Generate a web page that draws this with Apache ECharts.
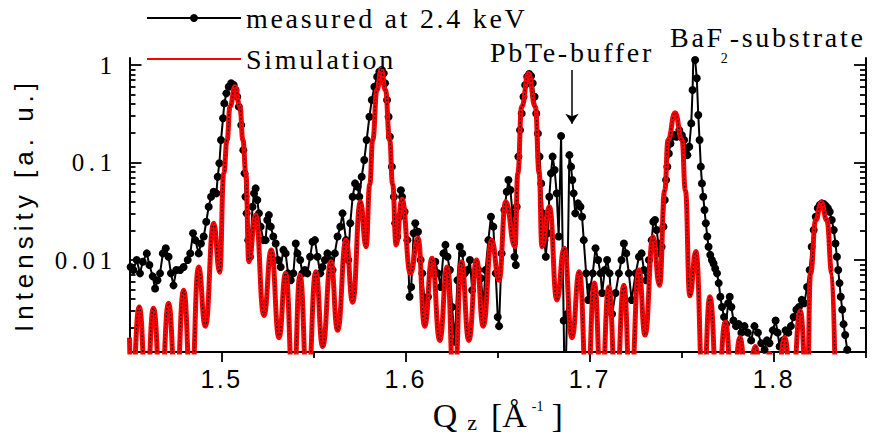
<!DOCTYPE html>
<html><head><meta charset="utf-8">
<script src="https://cdn.jsdelivr.net/npm/echarts@6/dist/echarts.min.js"></script>
<style>
html,body{margin:0;padding:0;background:#fff;}
#c{width:875px;height:434px;}
text[style*="LegSerif"]{letter-spacing:2.7px;}
text[style*="Tinos"]{letter-spacing:4.5px;}
text[style*="Arial"]{letter-spacing:2.5px;}
text[style*="Arimo"]{letter-spacing:5px;}
</style></head><body><div id="c"></div>
<script>
// ---- data ----
const qMeas = [1.4506,1.4521,1.4539,1.4557,1.4572,1.4594,1.4608,1.4626,1.4639,1.4652,1.4666,1.4681,1.4697,1.4712,1.4725,1.4739,1.4754,1.4775,1.4794,1.4816,1.4830,1.4845,1.4857,1.4876,1.4888,1.4903,1.4917,1.4930,1.4943,1.4957,1.4972,1.4979,1.4988,1.4997,1.5008,1.5015,1.5026,1.5039,1.5052,1.5066,1.5076,1.5085,1.5094,1.5107,1.5118,1.5125,1.5130,1.5136,1.5145,1.5154,1.5161,1.5168,1.5176,1.5185,1.5194,1.5203,1.5212,1.5227,1.5239,1.5248,1.5257,1.5267,1.5281,1.5294,1.5307,1.5321,1.5336,1.5348,1.5361,1.5376,1.5390,1.5403,1.5412,1.5427,1.5439,1.5452,1.5466,1.5481,1.5494,1.5507,1.5521,1.5536,1.5548,1.5561,1.5575,1.5590,1.5603,1.5615,1.5630,1.5645,1.5657,1.5676,1.5688,1.5699,1.5712,1.5725,1.5739,1.5748,1.5761,1.5775,1.5788,1.5803,1.5816,1.5830,1.5845,1.5857,1.5870,1.5881,1.5888,1.5899,1.5907,1.5914,1.5925,1.5936,1.5943,1.5954,1.5967,1.5974,1.5980,1.5994,1.6009,1.6021,1.6030,1.6043,1.6052,1.6067,1.6081,1.6090,1.6103,1.6121,1.6136,1.6148,1.6161,1.6176,1.6190,1.6205,1.6216,1.6227,1.6240,1.6252,1.6267,1.6281,1.6294,1.6307,1.6321,1.6336,1.6349,1.6361,1.6376,1.6394,1.6409,1.6421,1.6434,1.6449,1.6463,1.6476,1.6489,1.6500,1.6507,1.6521,1.6536,1.6549,1.6558,1.6569,1.6580,1.6591,1.6598,1.6603,1.6612,1.6621,1.6630,1.6640,1.6649,1.6660,1.6671,1.6681,1.6690,1.6700,1.6709,1.6718,1.6727,1.6736,1.6745,1.6754,1.6761,1.6771,1.6780,1.6789,1.6798,1.6809,1.6820,1.6831,1.6844,1.6858,1.6865,1.6876,1.6889,1.6898,1.6905,1.6912,1.6921,1.6936,1.6949,1.6958,1.6967,1.6980,1.6991,1.7003,1.7016,1.7031,1.7045,1.7058,1.7067,1.7081,1.7094,1.7107,1.7121,1.7140,1.7158,1.7172,1.7185,1.7198,1.7212,1.7227,1.7249,1.7267,1.7281,1.7294,1.7307,1.7321,1.7336,1.7345,1.7354,1.7363,1.7372,1.7381,1.7390,1.7400,1.7407,1.7414,1.7421,1.7429,1.7438,1.7449,1.7460,1.7471,1.7486,1.7500,1.7512,1.7521,1.7530,1.7540,1.7551,1.7558,1.7563,1.7572,1.7581,1.7589,1.7596,1.7603,1.7609,1.7616,1.7623,1.7630,1.7638,1.7645,1.7654,1.7663,1.7672,1.7681,1.7691,1.7700,1.7709,1.7718,1.7729,1.7740,1.7751,1.7760,1.7769,1.7780,1.7794,1.7809,1.7823,1.7840,1.7858,1.7876,1.7894,1.7913,1.7931,1.7949,1.7962,1.7976,1.7994,1.8009,1.8020,1.8031,1.8049,1.8063,1.8078,1.8092,1.8107,1.8122,1.8136,1.8151,1.8165,1.8180,1.8194,1.8205,1.8216,1.8227,1.8238,1.8249,1.8260,1.8271,1.8282,1.8293,1.8303,1.8314,1.8325,1.8334,1.8342,1.8349,1.8356,1.8363,1.8371,1.8378,1.8387,1.8398];
const iMeas = [0.0085,0.0079,0.0100,0.0073,0.0096,0.0117,0.0089,0.0068,0.0051,0.0062,0.0073,0.0117,0.0132,0.0108,0.0073,0.0055,0.0079,0.0079,0.0085,0.0100,0.0117,0.0188,0.0160,0.0117,0.0148,0.0174,0.0247,0.0352,0.0446,0.0502,0.0483,0.0716,0.0981,0.170,0.284,0.404,0.512,0.599,0.649,0.624,0.554,0.473,0.374,0.242,0.134,0.0774,0.0446,0.0301,0.0160,0.0108,0.0188,0.0352,0.0483,0.0543,0.0412,0.0301,0.0220,0.0160,0.0160,0.0257,0.0289,0.0220,0.0174,0.0148,0.0100,0.0085,0.0127,0.0117,0.0073,0.0062,0.0073,0.0148,0.0117,0.0100,0.0073,0.0079,0.0073,0.0108,0.0154,0.0160,0.0108,0.0073,0.0085,0.0100,0.0117,0.0100,0.0079,0.0117,0.0174,0.0220,0.0301,0.0160,0.0100,0.0238,0.0446,0.0611,0.0565,0.0446,0.0716,0.106,0.170,0.295,0.438,0.599,0.759,0.854,0.889,0.821,0.649,0.438,0.295,0.184,0.0907,0.0446,0.0238,0.0174,0.0278,0.0520,0.0446,0.0313,0.0160,0.0042,0.0053,0.0188,0.0238,0.0195,0.0100,0.0073,0.0036,0.0042,0.0073,0.0079,0.0096,0.0073,0.0053,0.0117,0.0143,0.0108,0.0079,0.0033,0.00145,0.0062,0.0137,0.0117,0.0073,0.0079,0.0100,0.0049,0.0073,0.0079,0.0065,0.0033,0.0079,0.0160,0.0278,0.0220,0.0073,0.0026,0.0021,0.0117,0.0326,0.0502,0.0661,0.0522,0.0301,0.0108,0.0089,0.0352,0.115,0.215,0.319,0.473,0.624,0.759,0.809,0.771,0.649,0.473,0.319,0.199,0.115,0.0611,0.0301,0.0160,0.0108,0.0188,0.0446,0.0774,0.115,0.0838,0.0483,0.0174,0.187,0.0024,0.0003,0.0028,0.119,0.0907,0.0661,0.0483,0.0301,0.0381,0.0352,0.0278,0.0160,0.0073,0.0039,0.0053,0.0073,0.0132,0.0100,0.0073,0.0046,0.0079,0.0100,0.0073,0.0028,0.0046,0.0073,0.0100,0.0148,0.0117,0.0073,0.0039,0.0073,0.0108,0.0117,0.0079,0.0062,0.0100,0.0160,0.0247,0.0257,0.0203,0.0148,0.0117,0.0137,0.0220,0.0412,0.0661,0.0907,0.124,0.157,0.184,0.191,0.184,0.215,0.191,0.170,0.134,0.119,0.145,0.252,0.554,1.32,1.125,0.730,0.307,0.170,0.0907,0.0611,0.0446,0.0326,0.0238,0.0174,0.0137,0.0113,0.0100,0.0092,0.0082,0.0073,0.0058,0.0042,0.0033,0.0026,0.0022,0.0036,0.0042,0.0033,0.0024,0.0021,0.0022,0.0018,0.0021,0.0018,0.0015,0.0021,0.0018,0.0014,0.0012,0.0015,0.0014,0.0019,0.0024,0.0018,0.0013,0.0015,0.0019,0.0018,0.0021,0.0026,0.0031,0.0033,0.0039,0.0036,0.0053,0.0079,0.0137,0.0203,0.0278,0.0339,0.0366,0.0381,0.0375,0.0358,0.0339,0.0313,0.0257,0.0203,0.0148,0.0108,0.0079,0.0058,0.0042,0.0031,0.0022,0.0017,0.0012];
const qSim = [1.4500,1.4512,1.4553,1.4592,1.4630,1.4671,1.4712,1.4753,1.4794,1.4835,1.4875,1.4912,1.4957,1.4990,1.5012,1.5030,1.5046,1.5073,1.5100,1.5116,1.5132,1.5148,1.5185,1.5230,1.5270,1.5312,1.5348,1.5390,1.5426,1.5467,1.5512,1.5549,1.5594,1.5630,1.5676,1.5712,1.5754,1.5785,1.5805,1.5821,1.5844,1.5867,1.5890,1.5913,1.5929,1.5948,1.5980,1.6026,1.6067,1.6103,1.6143,1.6185,1.6225,1.6263,1.6303,1.6343,1.6385,1.6421,1.6467,1.6507,1.6543,1.6594,1.6609,1.6630,1.6667,1.6704,1.6725,1.6740,1.6781,1.6821,1.6861,1.6903,1.6943,1.6985,1.7025,1.7063,1.7103,1.7143,1.7185,1.7221,1.7267,1.7300,1.7343,1.7379,1.7407,1.7425,1.7463,1.7501,1.7519,1.7543,1.7576,1.7616,1.7652,1.7694,1.7736,1.7776,1.7816,1.7852,1.7900,1.7936,1.7976,1.8014,1.8058,1.8098,1.8143,1.8180,1.8199,1.8227,1.8257,1.8287,1.8315,1.8334];
const iSim = [0.0016,0.0004,0.0033,0.0004,0.0032,0.0004,0.0036,0.0004,0.0049,0.0004,0.0085,0.0021,0.0238,0.0075,0.0775,0.170,0.374,0.600,0.374,0.170,0.0775,0.0096,0.0290,0.0027,0.0127,0.0016,0.0073,0.0004,0.0070,0.0004,0.0076,0.0013,0.0096,0.0019,0.0160,0.0037,0.0396,0.0137,0.0600,0.170,0.554,0.900,0.554,0.170,0.0600,0.0143,0.0419,0.0073,0.0167,0.0021,0.0104,0.0015,0.0085,0.0004,0.0096,0.0015,0.0100,0.0021,0.0160,0.0062,0.0396,0.0137,0.0775,0.374,0.820,0.374,0.0775,0.0137,0.0352,0.0039,0.0132,0.0016,0.0076,0.0004,0.0058,0.0004,0.0053,0.0004,0.0055,0.0004,0.0079,0.0017,0.0173,0.0055,0.0520,0.170,0.324,0.170,0.0520,0.0043,0.0122,0.0004,0.0042,0.0004,0.0023,0.0004,0.0016,0.0004,0.0013,0.0004,0.0011,0.0004,0.0016,0.0004,0.0030,0.0004,0.0073,0.0257,0.0390,0.0257,0.0073,0.0004];
const xMajorTicks = [1.5, 1.6, 1.7, 1.8];
const xMinorTicks = [1.55, 1.65, 1.75, 1.85];
const yMajorTicks = [0.01, 0.1, 1];
const yMinorTicks = [0.002,0.003,0.004,0.005,0.006,0.007,0.008,0.009,0.02,0.03,0.04,0.05,0.06,0.07,0.08,0.09,0.2,0.3,0.4,0.5,0.6,0.7,0.8,0.9];
const arrowQ = [1.6903, 1.6903];
const arrowI = [0.89, 0.25];

// ---- fonts ----
const LEG = 'Liberation Serif, LegSerif';
const YLAB = 'Liberation Serif, Tinos';
const XLAB = 'Liberation Sans, Arial';
const YNAME = 'Liberation Sans, Arimo';
const XNAME = 'Liberation Serif, Times';

const meas = qMeas.map((q, i) => [q, iMeas[i]]);
const sim = qSim.map((q, i) => [q, iSim[i]]);

const chart = echarts.init(document.getElementById('c'), null, {renderer: 'svg', width: 875, height: 434});
const Y_MIN = 0.00114, Y_MAX = 1.18;
function yAx(pos, ticks, len, showLine, label) {
  return {
    type: 'log', logBase: 10, min: Y_MIN, max: Y_MAX, position: pos,
    splitLine: {show: false},
    axisLine: {show: showLine, lineStyle: {color: '#000', width: 2}},
    axisTick: {show: true, inside: true, length: len, customValues: ticks, lineStyle: {color: '#000', width: 1.8}},
    axisLabel: label ? {show: true, customValues: yMajorTicks, margin: 13, fontSize: 25, fontFamily: YLAB, color: '#000',
      formatter: v => String(parseFloat(Number(v).toPrecision(3)))} : {show: false}
  };
}
const yMain = yAx('left', yMajorTicks, 12, true, true);
yMain.name = 'Intensity [a. u.]';
yMain.nameLocation = 'middle';
yMain.nameGap = 93;
yMain.nameTextStyle = {fontSize: 26, fontFamily: YNAME, color: '#000'};

const option = {
  animation: false,
  backgroundColor: '#fff',
  grid: {left: 129.5, right: 9, top: 58, bottom: 82, containLabel: false, outerBoundsMode: 'none'},
  legend: {
    orient: 'vertical', left: 146, top: 4, itemWidth: 94, itemHeight: 10, itemGap: 13, padding: 0,
    textStyle: {fontSize: 28, fontFamily: LEG, color: '#000'},
    data: [{name: 'measured at 2.4 keV'}, {name: 'Simulation', itemStyle: {opacity: 0}}]
  },
  xAxis: [
    {type: 'value', min: 1.45, max: 1.85, interval: 0.05, position: 'bottom',
     axisLine: {show: true, onZero: false, lineStyle: {color: '#000', width: 2}},
     axisTick: {show: true, customValues: xMajorTicks, length: 10, lineStyle: {color: '#000', width: 1.8}},
     axisLabel: {customValues: xMajorTicks, formatter: v => Number(v).toFixed(1), fontSize: 25, fontFamily: XLAB, color: '#000', margin: 14},
     splitLine: {show: false},
     name: '{q|Q}{s|z}{a|[Å}{u|-1}{b|]}', nameLocation: 'middle', nameGap: 33,
     nameTextStyle: {color: '#000', rich: {
       q: {fontSize: 34, fontFamily: XNAME, color: '#000', lineHeight: 40, padding: [0, 10, 0, 0]},
       s: {fontSize: 22, fontFamily: XNAME, color: '#000', lineHeight: 1, verticalAlign: 'top', padding: [16, 14, 0, 0]},
       a: {fontSize: 34, fontFamily: XNAME, color: '#000', lineHeight: 40, padding: [0, 5, 0, 0]},
       u: {fontSize: 14, fontFamily: XNAME, color: '#000', lineHeight: 1, verticalAlign: 'top', padding: [4, 8, 0, 0]},
       b: {fontSize: 34, fontFamily: XNAME, color: '#000', lineHeight: 40}
     }}},
    {type: 'value', min: 1.45, max: 1.85, interval: 0.05, position: 'bottom',
     axisLine: {show: false},
     axisTick: {show: true, customValues: xMinorTicks, length: 6, lineStyle: {color: '#000', width: 1.8}},
     axisLabel: {show: false}, splitLine: {show: false}}
  ],
  yAxis: [
    yMain,
    yAx('left', yMinorTicks, 6, false, false),
    yAx('right', yMajorTicks, 12, true, false),
    yAx('right', yMinorTicks, 6, false, false)
  ],
  graphic: [{
    type: 'text', left: 670, top: 21, silent: true,
    style: {
      text: '{a|BaF}{b|2}{c|-substrate}',
      rich: {
        a: {fontSize: 28, fontFamily: LEG, fill: '#000', lineHeight: 32, padding: [0, 4, 0, 0]},
        b: {fontSize: 14, fontFamily: LEG, fill: '#000', lineHeight: 1, verticalAlign: 'top', padding: [30, 2, 0, 0]},
        c: {fontSize: 28, fontFamily: LEG, fill: '#000', lineHeight: 32}
      }
    }
  }],
  series: [
    {name: 'measured at 2.4 keV', type: 'line', data: meas, xAxisIndex: 0, yAxisIndex: 0,
     symbol: 'circle', symbolSize: 8, showSymbol: true,
     itemStyle: {color: '#000'}, lineStyle: {color: '#000', width: 2}, z: 2,
     markLine: {
       silent: true, symbol: ['none', 'arrow'], symbolSize: 10,
       lineStyle: {color: '#000', width: 1.5, type: 'solid'},
       label: {show: true, position: 'start', formatter: 'PbTe-buffer', distance: 3, fontSize: 28, fontFamily: LEG, color: '#000'},
       data: [[{coord: [arrowQ[0], arrowI[0]]}, {coord: [arrowQ[1], arrowI[1]]}]]
     }},
    {name: 'Simulation', type: 'line', data: sim, xAxisIndex: 0, yAxisIndex: 0,
     smooth: 0.5, smoothMonotone: 'x', symbol: 'none',
     itemStyle: {color: '#ff0000'}, lineStyle: {color: '#ff0000', width: 5}, z: 3},
    {name: 'SimulationPoints', type: 'line', data: sim, xAxisIndex: 0, yAxisIndex: 0,
     smooth: 0.5, smoothMonotone: 'x', symbol: 'none', silent: true,
     itemStyle: {color: '#000'}, lineStyle: {color: '#000', width: 1.3, type: [1.5, 2.2]}, z: 4}
  ]
};
chart.setOption(option);
</script></body></html>
